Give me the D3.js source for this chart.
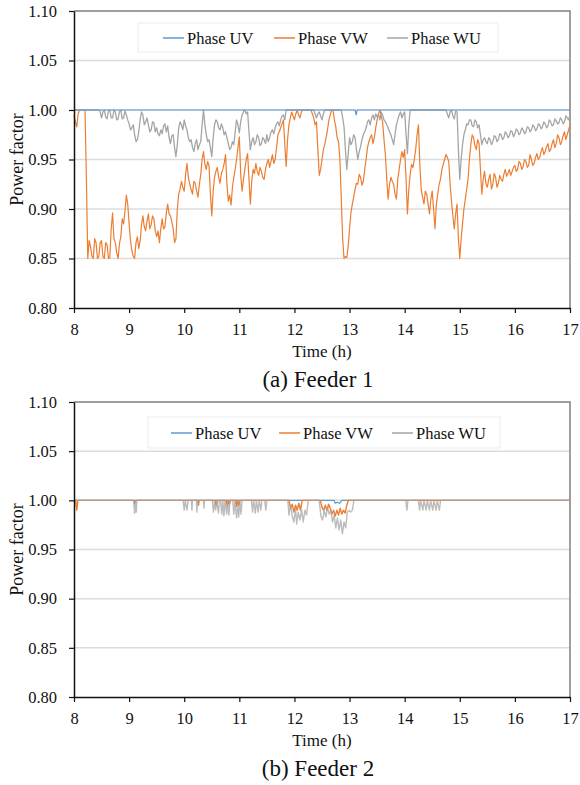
<!DOCTYPE html>
<html>
<head>
<meta charset="utf-8">
<title>Power factor by phase</title>
<script src="https://cdn.jsdelivr.net/npm/d3@7/dist/d3.min.js"></script>
<style>
  body { margin: 0; background: #fff; }
</style>
</head>
<body>
<svg id="chart" width="580" height="785"></svg>
<script>
var serif = '"Liberation Serif", "Times New Roman", Times, serif';

// series names + colours
var phases = ['Phase UV', 'Phase VW', 'Phase WU'];
var colors = ['#5B9BD5', '#ED7D31', '#A5A5A5'];
var yTicks = [0.80, 0.85, 0.90, 0.95, 1.00, 1.05, 1.10];
var xTicks = [8, 9, 10, 11, 12, 13, 14, 15, 16, 17];

// Feeder 1: read every 3 min (0.05 h) from 8 to 17 h, plus the value half-way between
var f1Time = d3.range(0, 181).map(i => 8 + i * 0.05);
var f1UvTime = [8, 13.10, 13.12, 13.14, 17];
var f1Uv = [1, 1, 0.995, 1, 1];
var f1Vw = [
  0.995, 0.983, 1, 1, 1, 0.850, 0.862, 0.850, 0.866, 0.852,
  0.868, 0.850, 0.864, 0.851, 0.896, 0.866, 0.850, 0.872, 0.885, 0.914,
  0.885, 0.858, 0.850, 0.872, 0.868, 0.893, 0.878, 0.895, 0.884, 0.890,
  0.872, 0.866, 0.890, 0.882, 0.905, 0.893, 0.880, 0.870, 0.915, 0.928,
  0.918, 0.946, 0.925, 0.915, 0.926, 0.912, 0.935, 0.958, 0.940, 0.944,
  0.893, 0.932, 0.942, 0.926, 0.940, 0.955, 0.908, 0.904, 0.932, 0.950,
  0.973, 0.918, 0.940, 0.956, 0.905, 0.940, 0.946, 0.934, 0.938, 0.930,
  0.946, 0.942, 0.955, 0.950, 0.975, 0.982, 0.990, 0.943, 0.985, 0.998,
  0.990, 1, 0.992, 1, 1, 1, 1, 0.992, 0.988, 0.934,
  0.950, 0.965, 0.980, 0.995, 1, 0.983, 0.968, 0.910, 0.850, 0.851,
  0.880, 0.905, 0.920, 0.925, 0.932, 0.928, 0.950, 0.968, 0.975, 0.972,
  0.990, 1, 0.988, 0.955, 0.910, 0.932, 0.925, 0.910, 0.940, 0.958,
  0.960, 0.895, 0.935, 0.942, 0.960, 0.985, 0.920, 0.905, 0.915, 0.895,
  0.918, 0.880, 0.915, 0.930, 0.945, 0.955, 0.948, 0.908, 0.880, 0.905,
  0.850, 0.885, 0.910, 0.930, 0.965, 0.972, 0.960, 0.966, 0.915, 0.938,
  0.922, 0.935, 0.925, 0.932, 0.926, 0.930, 0.935, 0.933, 0.940, 0.938,
  0.944, 0.940, 0.946, 0.943, 0.948, 0.944, 0.950, 0.946, 0.956, 0.952,
  0.962, 0.958, 0.966, 0.960, 0.970, 0.966, 0.972, 0.968, 0.978, 0.975,
  0.985
];
var f1VwMid = [
  0.988, 0.996, 1, 1, 0.930, 0.868, 0.852, 0.870, 0.850, 0.866,
  0.852, 0.866, 0.850, 0.880, 0.870, 0.856, 0.865, 0.890, 0.898, 0.905,
  0.868, 0.852, 0.866, 0.860, 0.884, 0.882, 0.888, 0.880, 0.893, 0.878,
  0.878, 0.880, 0.880, 0.896, 0.895, 0.887, 0.866, 0.900, 0.920, 0.922,
  0.935, 0.932, 0.920, 0.928, 0.918, 0.925, 0.950, 0.945, 0.948, 0.915,
  0.918, 0.938, 0.932, 0.936, 0.946, 0.925, 0.914, 0.922, 0.940, 0.962,
  0.935, 0.930, 0.950, 0.930, 0.928, 0.936, 0.938, 0.942, 0.932, 0.940,
  0.950, 0.948, 0.946, 0.962, 0.978, 0.986, 0.965, 0.970, 0.992, 0.994,
  0.996, 0.995, 0.998, 1, 1, 1, 0.996, 0.985, 0.960, 0.940,
  0.960, 0.972, 0.990, 1, 0.990, 0.972, 0.950, 0.870, 0.852, 0.862,
  0.896, 0.912, 0.926, 0.935, 0.924, 0.940, 0.962, 0.972, 0.966, 0.982,
  0.996, 0.994, 0.970, 0.930, 0.925, 0.928, 0.915, 0.930, 0.950, 0.952,
  0.930, 0.920, 0.945, 0.950, 0.975, 0.945, 0.912, 0.918, 0.905, 0.910,
  0.900, 0.905, 0.925, 0.940, 0.950, 0.952, 0.925, 0.893, 0.895, 0.870,
  0.870, 0.900, 0.920, 0.950, 0.975, 0.964, 0.970, 0.940, 0.930, 0.925,
  0.930, 0.920, 0.936, 0.922, 0.934, 0.928, 0.940, 0.936, 0.934, 0.942,
  0.938, 0.948, 0.940, 0.950, 0.942, 0.955, 0.944, 0.952, 0.950, 0.958,
  0.955, 0.963, 0.958, 0.966, 0.962, 0.975, 0.965, 0.974, 0.970, 0.980
];
var f1Wu = [
  1, 1, 1, 1, 1, 1, 1, 1, 1, 1,
  0.992, 1, 0.991, 1, 0.992, 0.998, 0.991, 1, 0.992, 0.995,
  0.986, 0.982, 0.975, 0.970, 0.990, 0.995, 0.988, 0.985, 0.980, 0.987,
  0.982, 0.974, 0.976, 0.986, 0.984, 0.966, 0.975, 0.953, 0.982, 0.985,
  0.990, 0.980, 0.968, 0.962, 0.966, 0.960, 0.968, 1, 0.975, 0.970,
  0.953, 0.985, 0.988, 0.980, 0.982, 0.978, 0.966, 0.962, 0.965, 0.990,
  0.977, 0.995, 1, 0.998, 0.960, 0.972, 0.968, 0.972, 0.966, 0.970,
  0.975, 0.972, 0.980, 0.982, 0.988, 0.990, 0.995, 1, 1, 1,
  1, 1, 1, 1, 1, 1, 1, 1, 0.992, 0.998,
  0.990, 1, 1, 1, 1, 1, 1, 1, 0.983, 0.940,
  0.972, 0.968, 0.972, 0.950, 0.963, 0.975, 0.982, 0.990, 0.992, 0.990,
  0.993, 0.990, 0.995, 0.988, 0.982, 0.975, 0.965, 0.985, 0.995, 0.992,
  0.998, 0.956, 1, 1, 1, 1, 1, 1, 1, 1,
  1, 1, 1, 1, 1, 1, 0.992, 1, 0.991, 0.998,
  0.930, 0.965, 0.980, 0.985, 0.990, 0.983, 0.988, 0.985, 0.965, 0.972,
  0.966, 0.970, 0.968, 0.973, 0.970, 0.975, 0.972, 0.976, 0.974, 0.978,
  0.976, 0.979, 0.977, 0.980, 0.978, 0.982, 0.980, 0.983, 0.981, 0.985,
  0.983, 0.986, 0.984, 0.988, 0.985, 0.989, 0.987, 0.990, 0.988, 0.992,
  0.995
];
var f1WuMid = [
  1, 1, 1, 1, 1, 1, 1, 1, 1, 0.998,
  0.998, 0.993, 0.999, 0.992, 1, 0.990, 0.998, 0.991, 0.999, 0.990,
  0.980, 0.985, 0.968, 0.978, 0.998, 0.985, 0.992, 0.978, 0.988, 0.978,
  0.976, 0.980, 0.984, 0.978, 0.972, 0.974, 0.962, 0.965, 0.988, 0.980,
  0.984, 0.972, 0.970, 0.958, 0.970, 0.965, 0.985, 0.985, 0.968, 0.962,
  0.972, 0.990, 0.982, 0.986, 0.975, 0.972, 0.960, 0.968, 0.978, 0.985,
  0.988, 0.998, 0.996, 0.978, 0.968, 0.965, 0.975, 0.964, 0.972, 0.966,
  0.968, 0.978, 0.976, 0.986, 0.984, 0.994, 0.990, 1, 1, 1,
  1, 1, 1, 1, 1, 1, 1, 0.996, 0.996, 0.994,
  0.996, 1, 1, 1, 1, 1, 1, 0.992, 0.960, 0.955,
  0.965, 0.975, 0.960, 0.958, 0.970, 0.978, 0.988, 0.985, 0.995, 0.996,
  0.996, 0.998, 0.990, 0.985, 0.978, 0.970, 0.975, 0.990, 0.998, 0.996,
  0.975, 0.985, 1, 1, 1, 1, 1, 1, 1, 1,
  1, 1, 1, 1, 1, 0.996, 0.998, 0.994, 0.999, 0.960,
  0.950, 0.975, 0.986, 0.990, 0.984, 0.990, 0.982, 0.975, 0.970, 0.968,
  0.972, 0.965, 0.974, 0.968, 0.976, 0.970, 0.978, 0.972, 0.979, 0.973,
  0.981, 0.975, 0.982, 0.976, 0.983, 0.978, 0.985, 0.979, 0.986, 0.981,
  0.988, 0.982, 0.990, 0.984, 0.991, 0.986, 0.992, 0.986, 0.994, 0.990
];

// Feeder 2: mostly unity, only the dips are listed
var f2UvTime = [8, 12.72, 12.74, 12.78, 12.82, 12.86, 17];
var f2Uv = [1, 1, 0.997, 0.998, 0.997, 1, 1];
var f2VwTime = [8, 8.03, 8.05, 8.07, 9.08, 9.10, 9.12, 10.25, 10.26, 10.27,
  10.56, 10.58, 10.60, 10.76, 10.78, 10.80, 10.82, 10.84,
  10.93, 10.95, 10.97, 10.99, 11.01,
  11.90, 11.93, 11.96, 11.99, 12.02, 12.05, 12.08, 12.11, 12.14,
  12.47, 12.50, 12.53, 12.56, 12.59, 12.62, 12.65, 12.68, 12.71, 12.74,
  12.77, 12.80, 12.83, 12.86, 12.89, 12.92, 12.95, 12.98, 17];
var f2Vw = [1, 1, 0.99, 1, 1, 0.997, 1, 1, 0.995, 1,
  1, 0.995, 1, 1, 0.994, 1, 0.996, 1,
  1, 0.994, 1, 0.995, 1,
  1, 0.992, 0.996, 0.988, 0.995, 0.99, 0.997, 0.99, 1,
  1, 0.993, 0.99, 0.995, 0.99, 0.996, 0.992, 0.986, 0.99, 0.984,
  0.99, 0.985, 0.992, 0.986, 0.99, 0.987, 0.995, 1, 1];
var f2WuTime = [8, 9.08, 9.10, 9.11, 9.13, 9.14, 9.98, 10.00, 10.02, 10.05, 10.07,
  10.13, 10.14, 10.15, 10.22, 10.23, 10.24, 10.35, 10.36, 10.37,
  10.51, 10.53, 10.55, 10.57, 10.59, 10.62, 10.64,
  10.66, 10.68, 10.70, 10.72, 10.74, 10.77, 10.79, 10.81, 10.83,
  10.88, 10.90, 10.92, 10.95, 10.97, 10.99, 11.01, 11.03, 11.05,
  11.22, 11.24, 11.26, 11.29, 11.31, 11.34, 11.36, 11.39, 11.41,
  11.46, 11.48, 11.50,
  11.88, 11.90, 11.93, 11.96, 11.99, 12.02, 12.04, 12.07, 12.10, 12.13, 12.16, 12.19, 12.22, 12.25,
  12.45, 12.48, 12.51, 12.54, 12.57, 12.60, 12.63, 12.66, 12.69, 12.72, 12.75, 12.78,
  12.81, 12.84, 12.87, 12.90, 12.93, 12.96, 12.99, 13.02, 13.05, 13.08,
  14.02, 14.04, 14.06,
  14.25, 14.27, 14.29, 14.33, 14.35, 14.39, 14.41, 14.45, 14.47, 14.51, 14.53,
  14.57, 14.59, 14.63, 14.65, 17];
var f2Wu = [1, 1, 0.987, 1, 0.988, 1, 1, 0.99, 1, 0.99, 1,
  1, 0.99, 1, 1, 0.988, 1, 1, 0.992, 1,
  1, 0.988, 1, 0.99, 1, 0.987, 1,
  1, 0.986, 1, 0.984, 1, 0.986, 0.998, 0.985, 1,
  1, 0.986, 1, 0.982, 0.995, 0.983, 1, 0.986, 1,
  1, 0.988, 1, 0.987, 1, 0.988, 1, 0.99, 1,
  1, 0.99, 1,
  1, 0.985, 0.995, 0.984, 0.978, 0.992, 0.976, 0.988, 0.98, 0.99, 0.978, 0.99, 0.985, 1,
  1, 0.984, 0.98, 0.99, 0.983, 0.993, 0.986, 0.99, 0.978, 0.985, 0.972, 0.982,
  0.97, 0.98, 0.966, 0.978, 0.972, 0.988, 0.99, 0.988, 0.99, 1,
  1, 0.99, 1,
  1, 0.99, 1, 0.99, 1, 0.99, 1, 0.99, 1, 0.99, 1,
  0.99, 1, 0.99, 1, 1];

var svg = d3.select('#chart');

function zip(ts, vs) { return ts.map((t, i) => [t, vs[i]]); }

// interleave the 3-min readings with the half-way readings
function withMid(ts, vs, mids) {
  var out = [];
  ts.forEach((t, i) => {
    out.push([t, vs[i]]);
    if (i < mids.length) out.push([t + 0.025, mids[i]]);
  });
  return out;
}

function drawPanel(p) {
  var x = d3.scaleLinear().domain([8, 17]).range([74, 570]);
  var y = d3.scaleLinear().domain([0.8, 1.1]).range([p.bottom, p.top]);
  var g = svg.append('g');

  //gridlines
  g.append('g').selectAll('line')
    .data(yTicks.slice(1, -1))
    .join('line')
    .attr('x1', 74).attr('x2', 570)
    .attr('y1', d => y(d)).attr('y2', d => y(d))
    .attr('stroke', '#dcdcdc').attr('stroke-width', 1.5);

  //frame top + right
  g.append('path')
    .attr('d', `M74,${p.top}H570V${p.bottom}`)
    .attr('fill', 'none').attr('stroke', '#808080').attr('stroke-width', 1.5);

  var line = d3.line().x(d => x(d[0])).y(d => y(d[1]));
  p.series.forEach(s => {
    g.append('path')
      .datum(s.pts)
      .attr('fill', 'none')
      .attr('stroke', colors[s.k])
      .attr('stroke-opacity', s.op || 1)
      .attr('stroke-width', s.w || 1.2)
      .attr('stroke-linejoin', 'round')
      .attr('d', line);
  });

  var yAxis = g.append('g')
    .attr('transform', 'translate(74,0)')
    .call(d3.axisLeft(y).tickValues(yTicks).tickFormat(d3.format('.2f')).tickSize(5).tickSizeOuter(0).tickPadding(12));
  var xAxis = g.append('g')
    .attr('transform', `translate(0,${p.bottom})`)
    .call(d3.axisBottom(x).tickValues(xTicks).tickSize(5).tickSizeOuter(0).tickPadding(10));
  [yAxis, xAxis].forEach(a => {
    a.attr('font-family', null);
    a.select('.domain').attr('stroke', '#111').attr('stroke-width', 1.5);
    a.selectAll('.tick line').attr('stroke', '#111').attr('stroke-width', 1.2);
    a.selectAll('text')
      .style('font-family', serif)
      .style('font-size', '16.5px')
      .attr('fill', '#111');
  });

  g.append('text')
    .attr('transform', `translate(23,${(p.top + p.bottom) / 2}) rotate(-90)`)
    .attr('text-anchor', 'middle')
    .style('font-family', serif)
    .style('font-size', '18px')
    .attr('fill', '#111')
    .text('Power factor');

  g.append('text')
    .attr('x', 322).attr('y', p.bottom + 49)
    .attr('text-anchor', 'middle')
    .style('font-family', serif)
    .style('font-size', '17px')
    .attr('fill', '#111')
    .text('Time (h)');

  g.append('text')
    .attr('x', 318).attr('y', p.bottom + 79)
    .attr('text-anchor', 'middle')
    .style('font-family', serif)
    .style('font-size', '23px')
    .attr('fill', '#111')
    .text(p.caption);

  //legend
  var lg = p.legend;
  g.append('rect')
    .attr('x', lg.x).attr('y', lg.y).attr('width', lg.w).attr('height', lg.h)
    .attr('fill', '#fff').attr('stroke', '#ececec');
  var items = g.append('g').selectAll('g')
    .data(phases)
    .join('g')
    .attr('transform', (d, i) => `translate(${lg.items[i]},${Math.round(lg.y + lg.h / 2)})`);
  items.append('line')
    .attr('x1', 0).attr('x2', 21)
    .attr('stroke', (d, i) => colors[i]).attr('stroke-width', 1.5);
  items.append('text')
    .attr('x', 24).attr('dy', '0.35em')
    .style('font-family', serif)
    .style('font-size', '16.5px')
    .attr('fill', '#111')
    .text(d => d);
}

drawPanel({
  top: 11, bottom: 308, caption: '(a) Feeder 1',
  legend: { x: 138, y: 23, w: 360, h: 29, items: [163, 274, 387] },
  series: [
    { k: 1, pts: withMid(f1Time, f1Vw, f1VwMid), w: 1.2 },
    { k: 2, pts: withMid(f1Time, f1Wu, f1WuMid), w: 1.3 },
    { k: 0, pts: zip(f1UvTime, f1Uv), w: 1.2 }
  ]
});

drawPanel({
  top: 402, bottom: 697, caption: '(b) Feeder 2',
  legend: { x: 148, y: 417, w: 352, h: 31, items: [171, 279, 392] },
  series: [
    { k: 0, pts: zip(f2UvTime, f2Uv), w: 1.2 },
    { k: 1, pts: zip(f2VwTime, f2Vw), w: 1.4 },
    { k: 2, pts: zip(f2WuTime, f2Wu), w: 1.4, op: 0.75 }
  ]
});
</script>
</body>
</html>
